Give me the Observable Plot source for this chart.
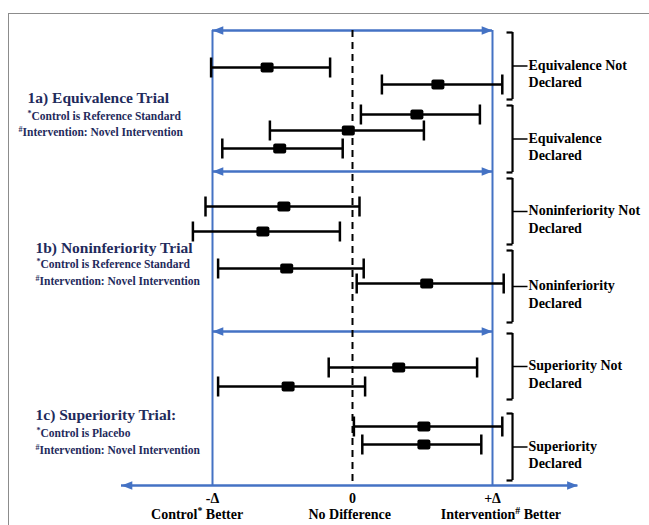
<!DOCTYPE html>
<html>
<head>
<meta charset="utf-8">
<script src="https://cdn.jsdelivr.net/npm/d3@7"></script>
<script src="https://cdn.jsdelivr.net/npm/@observablehq/plot@0.6"></script>
<style>
  html, body { margin: 0; padding: 0; background: #fff; }
  #wrap { position: relative; width: 649px; height: 525px; overflow: hidden; }
  #frame { position: absolute; left: 8px; top: 13px; width: 800px; height: 700px;
           border-top: 1.5px solid #8c8c8c; border-left: 1.5px solid #8c8c8c; pointer-events: none; }
</style>
</head>
<body>
<div id="wrap"><div id="frame"></div></div>
<script>
// ---------------- data ----------------
const DELTA = 1;
// thirteen hypothetical trial results (difference, with confidence interval), top to bottom
const rowPos    = [67, 84, 114, 130, 148, 206, 231, 268, 283, 367, 386, 426, 444];
const estimates = [-0.61, 0.61, 0.46, -0.03, -0.52, -0.49, -0.64, -0.47, 0.53, 0.33, -0.46, 0.51, 0.51];
const lower     = [-1.01, 0.21, 0.06, -0.59, -0.93, -1.05, -1.14, -0.96, 0.03, -0.17, -0.96, 0.01, 0.07];
const upper     = [-0.16, 1.07, 0.91, 0.51, -0.07, 0.05, -0.09, 0.08, 1.08, 0.89, 0.09, 1.07, 0.92];

// panels
const panelTitles   = ["1a) Equivalence Trial", "1b) Noninferiority Trial", "1c) Superiority Trial:"];
const controlNotes  = ["*Control is Reference Standard", "*Control is Reference Standard", "*Control is Placebo"];
const interventionNotes = ["#Intervention: Novel Intervention", "#Intervention: Novel Intervention", "#Intervention: Novel Intervention"];
const panelArrowPos = [30, 171, 331];
const axisPos = 485;
const axisExtent = [-1.65, 1.61];

// right-hand brackets
const bracketLabels = ["Equivalence Not\nDeclared", "Equivalence\nDeclared", "Noninferiority Not\nDeclared",
                       "Noninferiority\nDeclared", "Superiority Not\nDeclared", "Superiority\nDeclared"];
const bracketTop    = [32, 105, 178, 250, 333, 413];
const bracketBottom = [99, 172, 244, 322, 399, 480];
const bracketX = 1.143;

// x-axis labels
const tickValues = [-DELTA, 0, DELTA];
const tickLabels = ["-Δ", "0", "+Δ"];
const noteLabels = ["Control* Better", "No Difference", "Intervention# Better"];
const noteX      = [-1.11, -0.02, 1.06];

// ---------------- tables ----------------
const rows = rowPos.map((y, i) => ({y, est: estimates[i], lo: lower[i], hi: upper[i]}));
const caps = rows.flatMap(r => [{x: r.lo, y: r.y}, {x: r.hi, y: r.y}]);
const brackets = bracketLabels.map((label, i) => ({label, top: bracketTop[i], bottom: bracketBottom[i], mid: (bracketTop[i] + bracketBottom[i]) / 2}));
const panelArrows = panelArrowPos.map(y => ({y}));
const arrowHeads = panelArrowPos.flatMap(y => [{x: -DELTA, y, rot: 180}, {x: DELTA, y, rot: 0}])
  .concat([{x: axisExtent[0], y: axisPos, rot: 180}, {x: axisExtent[1], y: axisPos, rot: 0}]);
const ticks = tickValues.map((x, i) => ({x, label: tickLabels[i], note: noteLabels[i], noteX: noteX[i]}));

// ---------------- symbols ----------------
const rad = size => Math.sqrt(size / Math.PI);
const arrowHead = {draw(c, s) { const r = rad(s); c.moveTo(0, 0); c.lineTo(-1.2 * r, -0.48 * r); c.lineTo(-1.2 * r, 0.48 * r); c.closePath(); }};
const capSym    = {draw(c, s) { const r = rad(s); c.moveTo(0, -r); c.lineTo(0, r); }};
const hookSym   = {draw(c, s) { const r = rad(s); c.moveTo(0, 0); c.lineTo(-r, 0); }};
const tickSym   = {draw(c, s) { const r = rad(s); c.moveTo(0, 0); c.lineTo(r, 0); }};
const boxSym    = {draw(c, s) {
  const r = rad(s), w = 1.3 * r, h = r, k = 2;
  c.moveTo(-w + k, -h); c.lineTo(w - k, -h); c.arcTo(w, -h, w, -h + k, k);
  c.lineTo(w, h - k); c.arcTo(w, h, w - k, h, k); c.lineTo(-w + k, h);
  c.arcTo(-w, h, -w, h - k, k); c.lineTo(-w, -h + k); c.arcTo(-w, -h, -w + k, -h, k); c.closePath();
}};

const BLUE = "#4472c4";
const NAVY = "#1f2b5c";

// ---------------- chart ----------------
const chart = Plot.plot({
  width: 649, height: 525,
  marginTop: 0, marginRight: 0, marginBottom: 0, marginLeft: 0,
  x: {type: "linear", domain: [-DELTA, DELTA], range: [212, 492], axis: null},
  y: {type: "linear", domain: [0, 525], range: [0, 525], axis: null},
  style: {fontFamily: "'Liberation Serif', 'DejaVu Serif', serif", background: "transparent", overflow: "visible"},
  marks: [
    // margin lines at -Δ and +Δ
    Plot.ruleX(tickValues.filter(v => v !== 0), {y1: panelArrowPos[0], y2: axisPos, stroke: BLUE, strokeWidth: 2}),
    // double arrows of each panel
    Plot.ruleY(panelArrows, {y: "y", x1: -DELTA, x2: DELTA, stroke: BLUE, strokeWidth: 2.5}),
    // bottom axis
    Plot.ruleY([axisPos], {x1: axisExtent[0], x2: axisExtent[1], stroke: BLUE, strokeWidth: 2.5}),
    Plot.dot(arrowHeads, {x: "x", y: "y", rotate: "rot", symbol: arrowHead, r: 9, fill: BLUE, stroke: "none"}),
    // line of no difference
    Plot.ruleX([0], {y1: panelArrowPos[0], y2: axisPos, stroke: "black", strokeWidth: 2, strokeDasharray: "7,5"}),
    // confidence intervals
    Plot.ruleY(rows, {y: "y", x1: "lo", x2: "hi", stroke: "black", strokeWidth: 2.5}),
    Plot.dot(caps, {x: "x", y: "y", symbol: capSym, r: 10, fill: "none", stroke: "black", strokeWidth: 2.5}),
    Plot.dot(rows, {x: "est", y: "y", symbol: boxSym, r: 5, fill: "black", stroke: "none"}),
    // brackets
    Plot.ruleX(brackets, {x: bracketX, y1: "top", y2: "bottom", stroke: "black", strokeWidth: 2.2}),
    Plot.dot(brackets.flatMap(b => [{y: b.top}, {y: b.bottom}]), {x: bracketX, y: "y", symbol: hookSym, r: 6, fill: "none", stroke: "black", strokeWidth: 2.2}),
    Plot.dot(brackets, {x: bracketX, y: "mid", symbol: tickSym, r: 15, fill: "none", stroke: "black", strokeWidth: 1.5}),
    Plot.text(brackets, {x: bracketX, y: "mid", text: "label", dx: 16, dy: 7, textAnchor: "start", lineHeight: 1.25,
      fontSize: 14, fontWeight: "bold", fill: "black"}),
    // x-axis labels
    Plot.text(ticks, {x: "x", y: axisPos, text: "label", dy: 13, fontSize: 14, fontWeight: "bold", fill: "black"}),
    Plot.text(ticks, {x: "noteX", y: axisPos, text: "note", dy: 29, fontSize: 14, fontWeight: "bold", fill: "black"}),
    // panel titles and notes
    ...panelTitles.map((t, i) => Plot.text([t], {frameAnchor: "left", dx: [27, 35, 35][i], y: [98, 248, 415][i], text: d => d,
      textAnchor: "start", fontSize: 15.5, fontWeight: "bold", fill: NAVY})),
    ...controlNotes.map((t, i) => Plot.text([t], {frameAnchor: "left", dx: [27, 36, 36][i], y: [116, 264, 433][i], text: d => d,
      textAnchor: "start", fontSize: 11.5, fontWeight: "bold", fill: NAVY})),
    ...interventionNotes.map((t, i) => Plot.text([t], {frameAnchor: "left", dx: [18, 35, 35][i], y: [132, 281, 450][i], text: d => d,
      textAnchor: "start", fontSize: 11.5, fontWeight: "bold", fill: NAVY}))
  ]
});

// superscript the * and # marks
(function superscript(root) {
  const ns = "http://www.w3.org/2000/svg";
  root.querySelectorAll("text").forEach(el => {
    const walker = document.createTreeWalker(el, NodeFilter.SHOW_TEXT);
    const nodes = [];
    while (walker.nextNode()) nodes.push(walker.currentNode);
    for (const n of nodes) {
      if (!/[*#]/.test(n.nodeValue)) continue;
      const frag = document.createDocumentFragment();
      for (const p of n.nodeValue.split(/([*#])/)) {
        if (p === "") continue;
        if (p === "*" || p === "#") {
          const t = document.createElementNS(ns, "tspan");
          t.setAttribute("baseline-shift", "super");
          t.setAttribute("font-size", "70%");
          t.textContent = p;
          frag.appendChild(t);
        } else frag.appendChild(document.createTextNode(p));
      }
      n.parentNode.replaceChild(frag, n);
    }
  });
})(chart);

chart.style.position = "absolute";
chart.style.left = "0px";
chart.style.top = "0px";
document.getElementById("wrap").insertBefore(chart, document.getElementById("frame"));
</script>
</body>
</html>
